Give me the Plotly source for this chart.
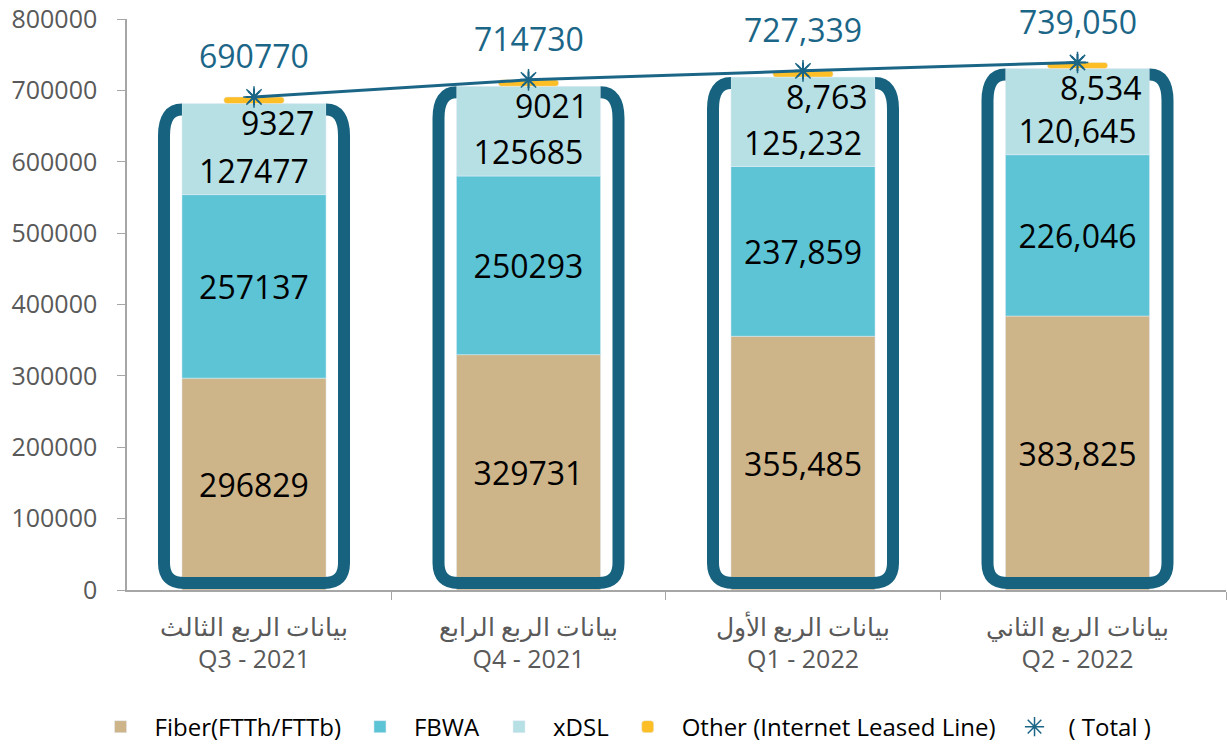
import numpy as np
import plotly.graph_objects as go

# quarter labels (arabic + english)
quarters = ["بيانات الربع الثالث<br>Q3 - 2021",
            "بيانات الربع الرابع<br>Q4 - 2021",
            "بيانات الربع الأول<br>Q1 - 2022",
            "بيانات الربع الثاني<br>Q2 - 2022"]

fiber = [296829, 329731, 355485, 383825]
fbwa = [257137, 250293, 237859, 226046]
xdsl = [127477, 125685, 125232, 120645]
other = [9327, 9021, 8763, 8534]
total = [690770, 714730, 727339, 739050]

# 2021 labels are written without thousands separators, 2022 with them
label_fmt = ["{:d}", "{:d}", "{:,d}", "{:,d}"]

C_FIBER = "#CEB489"
C_FBWA = "#5CC4D5"
C_XDSL = "#B7E0E5"
C_OTHER = "#FDBE26"
C_DARK = "#17637F"
C_TOTAL = "#1B6687"
FONT = "Open Sans"

def fmt_list(vals):
    return [f.format(v) for f, v in zip(label_fmt, vals)]

x = np.arange(len(quarters))
base_fbwa = np.array(fiber)
base_xdsl = base_fbwa + np.array(fbwa)
base_other = base_xdsl + np.array(xdsl)

fig = go.Figure()

bar_w = 0.525
fig.add_trace(go.Bar(x=x, y=fiber, base=0, width=bar_w, name="Fiber(FTTh/FTTb)",
                     marker_color=C_FIBER, text=fmt_list(fiber), textposition="inside",
                     insidetextanchor="middle", textangle=0,
                     textfont=dict(size=32, color="black", family=FONT)))
fig.add_trace(go.Bar(x=x, y=fbwa, base=base_fbwa, width=bar_w, name="FBWA",
                     marker_color=C_FBWA, text=fmt_list(fbwa), textposition="inside",
                     insidetextanchor="middle", textangle=0,
                     textfont=dict(size=32, color="black", family=FONT)))
fig.add_trace(go.Bar(x=x, y=xdsl, base=base_xdsl, width=bar_w, name="xDSL",
                     marker_color=C_XDSL, text=fmt_list(xdsl), textposition="inside",
                     insidetextanchor="start", textangle=0,
                     textfont=dict(size=32, color="black", family=FONT)))
fig.add_trace(go.Bar(x=x, y=other, base=base_other, width=0.22,
                     name="Other (Internet Leased Line)",
                     marker=dict(color=C_OTHER, cornerradius=6)))

fig.add_trace(go.Scatter(x=x, y=total, mode="lines+markers", showlegend=False,
                         line=dict(color=C_TOTAL, width=3),
                         marker=dict(symbol="asterisk-open", size=14,
                                     line=dict(width=2, color=C_TOTAL))))
fig.add_trace(go.Scatter(x=x, y=total, mode="markers", name="( Total )",
                         marker=dict(symbol="asterisk-open", size=18, color=C_TOTAL,
                                     line=dict(width=1.5, color=C_TOTAL))))

# other labels sit inside the top of the xDSL block, slightly to the right
for i, txt in enumerate(fmt_list(other)):
    fig.add_annotation(x=x[i], y=base_other[i], text=txt, showarrow=False,
                       xshift=23, yshift=-19, yanchor="middle",
                       font=dict(size=32, color="black", family=FONT))

for i, txt in enumerate(fmt_list(total)):
    fig.add_annotation(x=x[i], y=total[i], text=txt, showarrow=False,
                       yshift=41, yanchor="middle",
                       font=dict(size=32, color=C_TOTAL, family=FONT))

# rounded U-shaped frames around each column
px_x = 1 / 274.5          # x units per pixel
px_y = 800000 / 571       # y units per pixel
for i in range(len(x)):
    top = base_other[i] - 6 * px_y
    bot = 7 * px_y
    bl, br = x[i] - bar_w / 2, x[i] + bar_w / 2
    fl, fr = x[i] - 90 * px_x, x[i] + 90 * px_x
    rx, ry = 20 * px_x, 20 * px_y
    rt = 26 * px_y
    path = (f"M {bl},{top} Q {fl},{top} {fl},{top - rt} "
            f"L {fl},{bot + ry} Q {fl},{bot} {fl + rx},{bot} "
            f"L {fr - rx},{bot} Q {fr},{bot} {fr},{bot + ry} "
            f"L {fr},{top - rt} Q {fr},{top} {br},{top}")
    fig.add_shape(type="path", path=path, xref="x", yref="y", layer="above",
                  line=dict(color=C_DARK, width=12), fillcolor="rgba(0,0,0,0)")

fig.update_layout(
    width=1227, height=744,
    margin=dict(l=127, r=1, t=19, b=154, autoexpand=False),
    barmode="overlay",
    plot_bgcolor="white", paper_bgcolor="white",
    font=dict(family=FONT, color="black"),
    legend=dict(orientation="h", x=0.45, xanchor="center", y=-0.24, yanchor="middle",
                font=dict(size=24, color="black"), traceorder="normal",
                itemwidth=58),
)
fig.update_xaxes(range=[-0.4627, 3.541], tickvals=x, ticktext=quarters, ticks="",
                 showline=True, linecolor="#A6A6A6", linewidth=1.5, automargin=False,
                 tickfont=dict(size=25, color="#595959"), ticklabelstandoff=14,
                 minor=dict(tickvals=[0.5, 1.5, 2.5, 3.541], ticks="outside",
                            ticklen=8, tickcolor="#A6A6A6"),
                 showgrid=False, zeroline=False)
fig.update_yaxes(range=[0, 800000], dtick=100000, tickformat="d", automargin=False,
                 showline=True, linecolor="#A6A6A6", linewidth=1.5,
                 ticks="outside", ticklen=8, tickcolor="#A6A6A6",
                 tickfont=dict(size=25, color="#595959"), ticklabelstandoff=15,
                 showgrid=False, zeroline=False)

# drop the browser's default page margin so the figure fills the window
fig.write_html("out.html", config={"displayModeBar": False},
               post_script="document.body.style.margin='0';")
